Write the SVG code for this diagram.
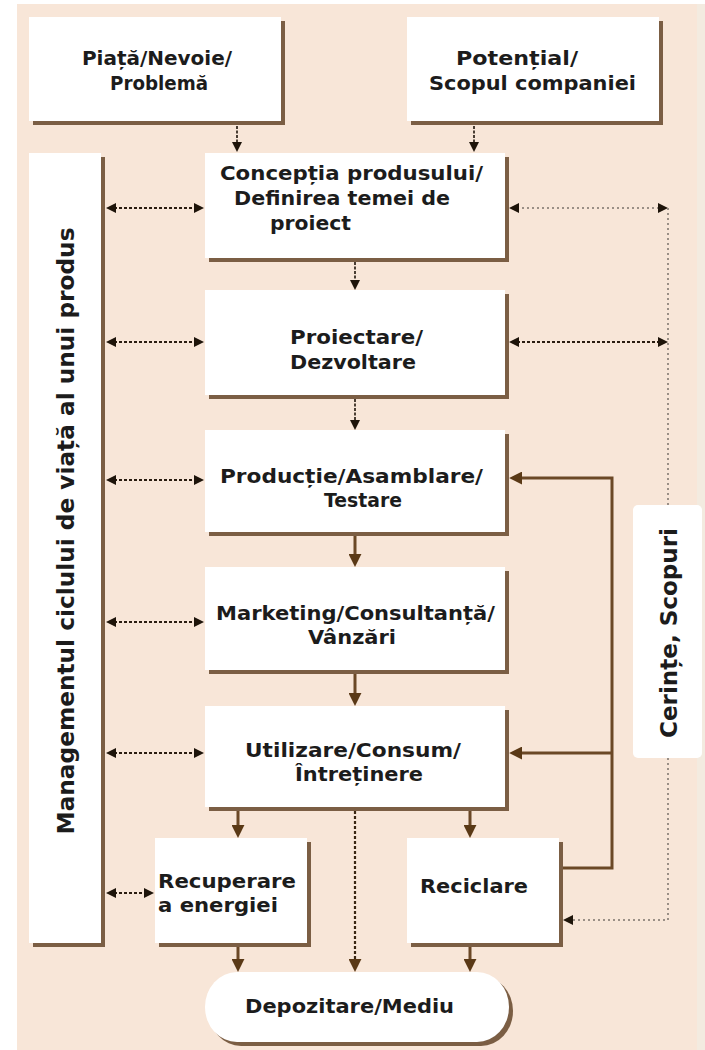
<svg xmlns="http://www.w3.org/2000/svg" width="705" height="1050" viewBox="0 0 705 1050">
  <defs>
    <style>
      .box { fill: #ffffff; }
      .shadow { fill: #7b5e44; }
      .label { font-family: "DejaVu Sans", Verdana, sans-serif; font-weight: 700; font-size: 20px; fill: #1c1c1c; }
      .vlabel { font-family: "DejaVu Sans", Verdana, sans-serif; font-weight: 700; font-size: 23px; fill: #1c1c1c; }
      .dot { fill: none; stroke: #2a1c10; stroke-width: 2; stroke-dasharray: 3 2; }
      .dot-light { fill: none; stroke: #9a8f86; stroke-width: 2; stroke-dasharray: 2 3; }
      .thin { fill: none; stroke: #1e140a; stroke-width: 1.6; stroke-dasharray: 3 1.5; }
      .flow { fill: none; stroke: #6b4826; stroke-width: 3; }
      .flow-dot { fill: none; stroke: #3a2612; stroke-width: 2.2; stroke-dasharray: 3 2; }
    </style>
    <marker id="hb" viewBox="0 0 10 10" refX="7" refY="5" markerWidth="10" markerHeight="10" markerUnits="userSpaceOnUse" orient="auto-start-reverse">
      <path d="M0,0 L10,5 L0,10 z" fill="#1e140a"/>
    </marker>
    <marker id="hr" viewBox="0 0 10 10" refX="7" refY="5" markerWidth="13" markerHeight="13" markerUnits="userSpaceOnUse" orient="auto">
      <path d="M0,0 L10,5 L0,10 z" fill="#5a3916"/>
    </marker>
  </defs>

  <!-- page background -->
  <rect x="0" y="0" width="705" height="1050" fill="#ffffff"/>
  <rect x="17" y="4" width="683" height="1046" fill="#f8e6d8"/>
  <rect x="697" y="4" width="8" height="1046" fill="#f3ebe0"/>

  <!-- connectors -->
  <g id="connectors">
    <!-- inputs into the concept stage -->
    <line class="thin" x1="237" y1="126" x2="237" y2="149" marker-end="url(#hb)"/>
    <line class="thin" x1="474" y1="126" x2="474" y2="149" marker-end="url(#hb)"/>
    <!-- main sequence -->
    <line class="thin" x1="355" y1="262" x2="355" y2="287" marker-end="url(#hb)"/>
    <line class="thin" x1="355" y1="399" x2="355" y2="427" marker-end="url(#hb)"/>
    <line class="flow" x1="355" y1="536" x2="355" y2="563" marker-end="url(#hr)"/>
    <line class="flow" x1="355" y1="674" x2="355" y2="702" marker-end="url(#hr)"/>
    <line class="flow" x1="238" y1="811" x2="238" y2="834" marker-end="url(#hr)"/>
    <line class="flow" x1="470" y1="811" x2="470" y2="834" marker-end="url(#hr)"/>
    <line class="flow-dot" x1="355" y1="811" x2="355" y2="968" marker-end="url(#hr)"/>
    <line class="flow" x1="238" y1="947" x2="238" y2="968" marker-end="url(#hr)"/>
    <line class="flow" x1="470" y1="947" x2="470" y2="968" marker-end="url(#hr)"/>
    <!-- recycling feedback -->
    <path class="flow" d="M563,868 H612 V478 H513" marker-end="url(#hr)"/>
    <path class="flow" d="M612,753 H513" marker-end="url(#hr)"/>
    <!-- lifecycle management links -->
    <line class="dot" x1="109" y1="208" x2="201" y2="208" marker-start="url(#hb)" marker-end="url(#hb)"/>
    <line class="dot" x1="109" y1="342" x2="201" y2="342" marker-start="url(#hb)" marker-end="url(#hb)"/>
    <line class="dot" x1="109" y1="480" x2="201" y2="480" marker-start="url(#hb)" marker-end="url(#hb)"/>
    <line class="dot" x1="109" y1="622" x2="201" y2="622" marker-start="url(#hb)" marker-end="url(#hb)"/>
    <line class="dot" x1="109" y1="753" x2="201" y2="753" marker-start="url(#hb)" marker-end="url(#hb)"/>
    <line class="dot" x1="109" y1="893" x2="151" y2="893" marker-start="url(#hb)" marker-end="url(#hb)"/>
    <!-- requirements / goals links -->
    <line class="dot-light" x1="512" y1="208" x2="665" y2="208" marker-start="url(#hb)" marker-end="url(#hb)"/>
    <line class="dot" x1="512" y1="342" x2="665" y2="342" marker-start="url(#hb)" marker-end="url(#hb)"/>
    <path class="dot-light" d="M668,208 V920 H566" marker-end="url(#hb)"/>
  </g>

  <!-- nodes -->
  <g id="piata">
    <rect class="shadow" x="33" y="21" width="252" height="104"/>
    <rect class="box" x="29" y="17" width="252" height="104"/>
    <text class="label" x="157" y="65" text-anchor="middle">Piață/Nevoie/</text>
    <text class="label" x="159" y="90" text-anchor="middle" textLength="98" lengthAdjust="spacingAndGlyphs">Problemă</text>
  </g>

  <g id="potential">
    <rect class="shadow" x="411" y="21" width="252" height="104"/>
    <rect class="box" x="407" y="17" width="252" height="104"/>
    <text class="label" x="456" y="65" textLength="122" lengthAdjust="spacingAndGlyphs">Potențial/</text>
    <text class="label" x="429" y="90" textLength="207" lengthAdjust="spacingAndGlyphs">Scopul companiei</text>
  </g>

  <g id="management">
    <rect class="shadow" x="33" y="157" width="72" height="790"/>
    <rect class="box" x="29" y="153" width="72" height="790"/>
    <text class="vlabel" transform="translate(74,531) rotate(-90)" x="0" y="0" text-anchor="middle" textLength="607" lengthAdjust="spacingAndGlyphs">Managementul ciclului de viață al unui produs</text>
  </g>

  <g id="conceptia">
    <rect class="shadow" x="209" y="157" width="300" height="105"/>
    <rect class="box" x="205" y="153" width="300" height="105"/>
    <text class="label" x="220" y="180" textLength="263" lengthAdjust="spacingAndGlyphs">Concepția produsului/</text>
    <text class="label" x="234" y="205" textLength="216" lengthAdjust="spacingAndGlyphs">Definirea temei de</text>
    <text class="label" x="270" y="230" textLength="81" lengthAdjust="spacingAndGlyphs">proiect</text>
  </g>

  <g id="proiectare">
    <rect class="shadow" x="209" y="294" width="300" height="105"/>
    <rect class="box" x="205" y="290" width="300" height="105"/>
    <text class="label" x="290" y="344" textLength="133" lengthAdjust="spacingAndGlyphs">Proiectare/</text>
    <text class="label" x="290" y="369" textLength="126" lengthAdjust="spacingAndGlyphs">Dezvoltare</text>
  </g>

  <g id="productie">
    <rect class="shadow" x="209" y="434" width="300" height="102"/>
    <rect class="box" x="205" y="430" width="300" height="102"/>
    <text class="label" x="220" y="483" textLength="263" lengthAdjust="spacingAndGlyphs">Producție/Asamblare/</text>
    <text class="label" x="324" y="507" textLength="78" lengthAdjust="spacingAndGlyphs">Testare</text>
  </g>

  <g id="marketing">
    <rect class="shadow" x="209" y="571" width="300" height="103"/>
    <rect class="box" x="205" y="567" width="300" height="103"/>
    <text class="label" x="216" y="620" textLength="279" lengthAdjust="spacingAndGlyphs">Marketing/Consultanță/</text>
    <text class="label" x="308" y="644" textLength="88" lengthAdjust="spacingAndGlyphs">Vânzări</text>
  </g>

  <g id="utilizare">
    <rect class="shadow" x="209" y="710" width="300" height="101"/>
    <rect class="box" x="205" y="706" width="300" height="101"/>
    <text class="label" x="245" y="757" textLength="216" lengthAdjust="spacingAndGlyphs">Utilizare/Consum/</text>
    <text class="label" x="295" y="781" textLength="128" lengthAdjust="spacingAndGlyphs">Întreținere</text>
  </g>

  <g id="recuperare">
    <rect class="shadow" x="159" y="842" width="152" height="105"/>
    <rect class="box" x="155" y="838" width="152" height="105"/>
    <text class="label" x="158" y="888" textLength="138" lengthAdjust="spacingAndGlyphs">Recuperare</text>
    <text class="label" x="158" y="912" textLength="120" lengthAdjust="spacingAndGlyphs">a energiei</text>
  </g>

  <g id="reciclare">
    <rect class="shadow" x="411" y="842" width="152" height="105"/>
    <rect class="box" x="407" y="838" width="152" height="105"/>
    <text class="label" x="420" y="893" textLength="108" lengthAdjust="spacingAndGlyphs">Reciclare</text>
  </g>

  <g id="depozitare">
    <rect class="shadow" x="209" y="976" width="304" height="70" rx="32" ry="35"/>
    <rect class="box" x="205" y="972" width="304" height="70" rx="32" ry="35"/>
    <text class="label" x="245" y="1013" textLength="209" lengthAdjust="spacingAndGlyphs">Depozitare/Mediu</text>
  </g>

  <g id="cerinte">
    <rect class="box" x="633" y="505" width="69" height="253" rx="5"/>
    <text class="vlabel" transform="translate(677,633) rotate(-90)" x="0" y="0" text-anchor="middle" textLength="210" lengthAdjust="spacingAndGlyphs">Cerințe, Scopuri</text>
  </g>
</svg>
